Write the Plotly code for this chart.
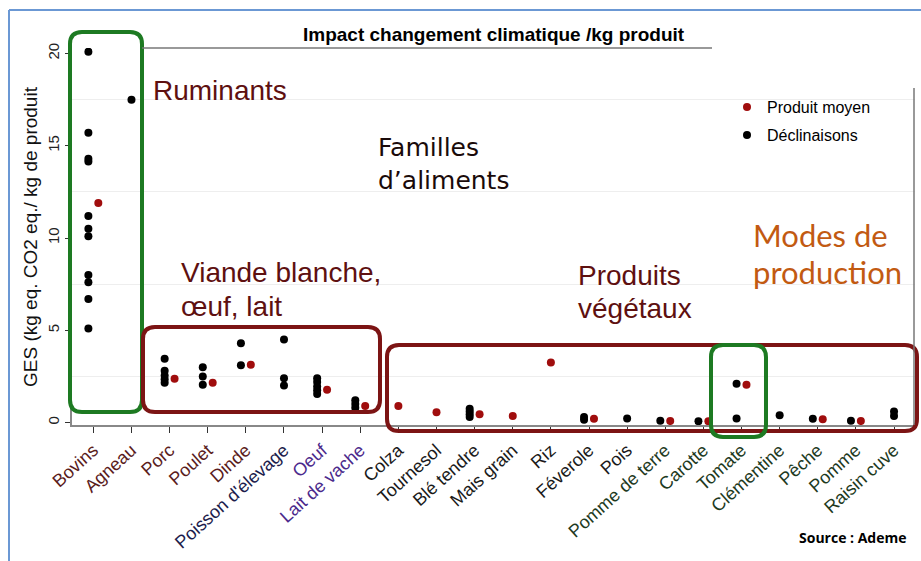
import plotly.graph_objects as go

# categories on the x axis
cats = ["Bovins", "Agneau", "Porc", "Poulet", "Dinde", "Poisson d'élevage", "Oeuf",
        "Lait de vache", "Colza", "Tournesol", "Blé tendre", "Mais grain", "Riz",
        "Féverole", "Pois", "Pomme de terre", "Carotte", "Tomate", "Clémentine",
        "Pêche", "Pomme", "Raisin cuve"]
cat_colors = ["#5a1c1c"] * 5 + ["#1c1c4c"] + ["#4b2a8c"] * 2 + ["#1a1a1a"] * 7 + ["#1e3a1e"] * 7

# déclinaisons (black dots): category + value
decl_cat = (["Bovins"] * 11 + ["Agneau"] + ["Porc"] * 5 + ["Poulet"] * 3 + ["Dinde"] * 2
            + ["Poisson d'élevage"] * 3 + ["Oeuf"] * 5 + ["Lait de vache"] * 3
            + ["Blé tendre"] * 4 + ["Féverole"] * 2 + ["Pois"] + ["Pomme de terre"]
            + ["Carotte"] + ["Tomate"] * 2 + ["Clémentine"] + ["Pêche"] + ["Pomme"]
            + ["Raisin cuve"] * 2)
decl_val = [20.1, 15.7, 14.3, 14.15, 11.2, 10.5, 10.1, 8.0, 7.6, 6.7, 5.1,
            17.5,
            3.45, 2.8, 2.55, 2.35, 2.15,
            3.0, 2.5, 2.05,
            4.3, 3.1,
            4.5, 2.4, 2.0,
            2.4, 2.2, 1.95, 1.75, 1.55,
            1.2, 1.0, 0.8,
            0.75, 0.6, 0.45, 0.3,
            0.3, 0.15,
            0.22,
            0.1,
            0.07,
            2.1, 0.22,
            0.4,
            0.2,
            0.1,
            0.6, 0.35]

# produit moyen (red dots), None when absent
moyen_val = [11.9, None, 2.37, 2.15, 3.13, None, 1.77, 0.89, 0.9, 0.55, 0.45, 0.35,
             3.25, 0.2, None, 0.08, 0.07, 2.05, None, 0.18, 0.08, None]

# plot area in pixels
L, R, T, B = 72, 915, 48, 425
W, H = 921, 561


def px(x):
    return (x - L) / (R - L)


def py(y):
    return (B - y) / (B - T)


def box(x0, y0, x1, y1, r=12):
    pts = [("M", x0 + r, y0), ("L", x1 - r, y0), ("Q", x1, y0, x1, y0 + r),
           ("L", x1, y1 - r), ("Q", x1, y1, x1 - r, y1), ("L", x0 + r, y1),
           ("Q", x0, y1, x0, y1 - r), ("L", x0, y0 + r), ("Q", x0, y0, x0 + r, y0)]
    s = ""
    for p in pts:
        s += p[0] + " " + " ".join(
            f"{px(p[i]):.5f},{py(p[i + 1]):.5f}" for i in range(1, len(p), 2)) + " "
    return s + "Z"


idx = {c: i for i, c in enumerate(cats)}
off = 0.13
has_moyen = {c: moyen_val[i] is not None for i, c in enumerate(cats)}
has_decl = set(decl_cat)

decl_x = [idx[c] - (off if has_moyen[c] else 0) for c in decl_cat]
moy_x, moy_y = [], []
for i, c in enumerate(cats):
    if moyen_val[i] is not None:
        moy_x.append(i + (off if c in has_decl else 0))
        moy_y.append(moyen_val[i])

fig = go.Figure()
fig.add_trace(go.Scatter(x=decl_x, y=decl_val, mode="markers", name="Déclinaisons",
                         marker=dict(color="black", size=8), legend="legend2"))
fig.add_trace(go.Scatter(x=moy_x, y=moy_y, mode="markers", name="Produit moyen",
                         marker=dict(color="#a00d0d", size=8), legend="legend"))

ticktext = [f'<span style="color:{col}">{c}</span>' for c, col in zip(cats, cat_colors)]

green = "#1d7a22"
dred = "#7c1414"
shapes = [
    dict(type="path", path=box(70, 32, 142, 412), line=dict(color=green, width=4)),
    dict(type="path", path=box(143, 327, 380, 412), line=dict(color=dred, width=4)),
    dict(type="path", path=box(387, 345, 917, 431), line=dict(color=dred, width=4)),
    dict(type="path", path=box(711, 345, 766, 437), line=dict(color=green, width=4)),
    # partial frame of the plot
    dict(type="line", x0=px(142), x1=px(712), y0=py(48), y1=py(48), line=dict(color="#777", width=1.5)),
    dict(type="line", x0=px(914), x1=px(914), y0=py(88), y1=py(425), line=dict(color="#777", width=1.5)),
    # outer slide frame
    dict(type="line", x0=px(9), x1=px(921), y0=py(10), y1=py(10), line=dict(color="#6b98d4", width=2)),
    dict(type="line", x0=px(9), x1=px(9), y0=py(10), y1=py(561), line=dict(color="#6b98d4", width=2)),
]
for s in shapes:
    s["xref"] = "paper"
    s["yref"] = "paper"


def note(text, x, y, color, size, family="Liberation Sans", anchor="left", bold=False):
    if bold:
        text = "<b>" + text + "</b>"
    return dict(text=text, x=px(x), y=py(y), xref="paper", yref="paper", showarrow=False,
                xanchor=anchor, yanchor="middle", align="left",
                font=dict(color=color, size=size, family=family))


annotations = [
    note("Impact changement climatique /kg produit", 494, 35, "black", 19, anchor="center", bold=True),
    note("Ruminants", 151, 91, "#5e1010", 28),
    note("Familles", 376, 147, "#1a0a0a", 25, family="DejaVu Sans"),
    note("d’aliments", 376, 181, "#1a0a0a", 25, family="DejaVu Sans"),
    note("Viande blanche,", 179, 272, "#5e1010", 28),
    note("œuf, lait", 179, 306, "#5e1010", 28),
    note("Produits", 576, 275, "#5e1010", 28),
    note("végétaux", 576, 308, "#5e1010", 28),
    note("Modes de", 751, 235, "#c25a12", 31, family="Lato"),
    note("production", 751, 272, "#c25a12", 31, family="Lato"),
    note("Source : Ademe", 908, 537, "black", 14, family="Open Sans", anchor="right", bold=True),
]
yt = note("GES (kg eq. CO2 eq./ kg de produit", 30, 237, "#111", 19, anchor="center")
yt["textangle"] = -90
annotations.append(yt)

legfont = dict(size=16, family="Liberation Sans", color="black")
fig.update_layout(
    width=W, height=H,
    margin=dict(l=L, r=W - R, t=T, b=H - B),
    paper_bgcolor="white", plot_bgcolor="white",
    shapes=shapes, annotations=annotations, showlegend=True,
    legend=dict(x=px(727), y=py(107), xanchor="left", yanchor="middle",
                font=legfont, bgcolor="rgba(0,0,0,0)"),
    legend2=dict(x=px(727), y=py(135), xanchor="left", yanchor="middle",
                 font=legfont, bgcolor="rgba(0,0,0,0)"),
    xaxis=dict(range=[-0.56, 21.55], tickmode="array", tickvals=list(range(len(cats))),
               ticktext=ticktext, tickangle=-42, ticks="outside", ticklen=6, tickcolor="#333",
               tickfont=dict(size=18, family="Liberation Sans"), showgrid=False, automargin=False,
               showline=True, linecolor="#888", linewidth=1.5, zeroline=False),
    yaxis=dict(range=[-0.135, 20.3], tickvals=[0, 5, 10, 15, 20], ticks="outside", ticklen=5,
               tickcolor="#333", tickangle=-90, tickfont=dict(size=15, family="Liberation Sans", color="#222"),
               showgrid=False, zeroline=False, showline=True, linecolor="#888", linewidth=1.5,
               automargin=False,
               minor=dict(tickvals=[2.5, 7.5, 12.5, 17.5], showgrid=True, gridcolor="#eeeeee", ticks="")),
)

# the page's default body margin would shift the figure by 8px
fig.write_html("out.html", config={"displayModeBar": False},
               post_script="document.body.style.margin='0px';")
